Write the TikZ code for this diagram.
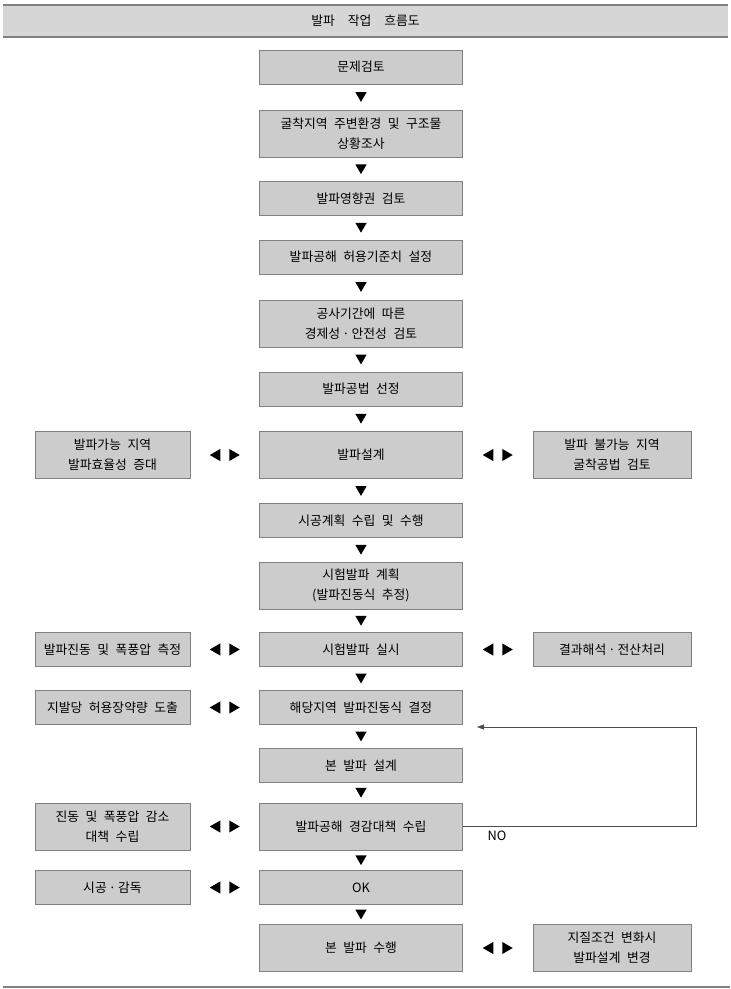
\documentclass[tikz,border=0pt]{standalone}
\usepackage{fontspec}
\newfontfamily\kor{Noto Sans CJK KR}
\usetikzlibrary{arrows.meta,calc,shapes.geometric}

\definecolor{boxfill}{RGB}{204,204,204}
\definecolor{headfill}{RGB}{214,214,214}
\definecolor{boxline}{RGB}{128,128,128}

\newcommand{\boxfont}{\kor\fontsize{12.8}{20}\selectfont\spaceskip=6.5pt\relax}
\newcommand{\headfont}{\kor\fontsize{12.8}{20}\selectfont\spaceskip=13pt\relax}

\begin{document}
\begin{tikzpicture}[x=1pt,y=-1pt,
  font=\boxfont,
  stage/.style={draw=boxline,fill=boxfill,minimum width=203pt,minimum height=34pt,
                inner sep=0pt,align=center},
  tall/.style={minimum height=47pt},
  lside/.style={stage,minimum width=155pt},
  rside/.style={stage,minimum width=158pt},
  headbar/.style={fill=headfill,minimum width=725pt,minimum height=32pt,inner sep=0pt,
                  font=\headfont},
  rule/.style={draw=boxline,line width=2pt},
  down/.style={regular polygon,regular polygon sides=3,shape border rotate=180,
               fill=black,inner sep=0pt,minimum size=13pt,yshift=1.6pt},
  lpoint/.style={regular polygon,regular polygon sides=3,shape border rotate=90,
                 fill=black,inner sep=0pt,minimum size=14pt},
  rpoint/.style={lpoint,shape border rotate=-90},
  back/.style={draw=black!70,-{Triangle[length=7pt,width=5pt]}}
]
  \useasboundingbox (0,0) rectangle (731,989);

  % title bar
  \node[headbar] (head) at (365.5,21) {발파 작업 흐름도};
  \draw[rule] (head.north west) -- (head.north east);
  \draw[rule] (head.south west) -- (head.south east);

  % main column
  \node[stage] (b1) at (361,67) {문제검토};
  \node[stage,tall] (b2) at (361,133.5) {굴착지역 주변환경 및 구조물\\상황조사};
  \node[stage] (b3) at (361,198.5) {발파영향권 검토};
  \node[stage] (b4) at (361,257) {발파공해 허용기준치 설정};
  \node[stage,tall] (b5) at (361,323.5) {공사기간에 따른\\경제성\,·\,안전성 검토};
  \node[stage] (b6) at (361,389) {발파공법 선정};
  \node[stage,tall] (b7) at (361,455) {발파설계};
  \node[stage] (b8) at (361,520.5) {시공계획 수립 및 수행};
  \node[stage,tall] (b9) at (361,585.5) {시험발파 계획\\(발파진동식 추정)};
  \node[stage] (b10) at (361,649.5) {시험발파 실시};
  \node[stage] (b11) at (361,707.5) {해당지역 발파진동식 결정};
  \node[stage] (b12) at (361,765.5) {본 발파 설계};
  \node[stage,tall] (b13) at (361,826.5) {발파공해 경감대책 수립};
  \node[stage] (b14) at (361,887.5) {OK};
  \node[stage,tall] (b15) at (361,948) {본 발파 수행};

  % side boxes
  \node[lside,tall] (l7) at (112.5,455) {발파가능 지역\\발파효율성 증대};
  \node[rside,tall] (r7) at (612,455) {발파 불가능 지역\\굴착공법 검토};
  \node[lside] (l10) at (112.5,649.5) {발파진동 및 폭풍압 측정};
  \node[rside] (r10) at (612,649.5) {결과해석\,·\,전산처리};
  \node[lside] (l11) at (112.5,707.5) {지발당 허용장약량 도출};
  \node[lside,tall] (l13) at (112.5,826.5) {진동 및 폭풍압 감소\\대책 수립};
  \node[lside] (l14) at (112.5,887.5) {시공\,·\,감독};
  \node[rside,tall] (r15) at (612,948) {지질조건 변화시\\발파설계 변경};

  % flow markers
  \foreach \a/\b in {b1/b2,b2/b3,b3/b4,b4/b5,b5/b6,b6/b7,b7/b8,b8/b9,b9/b10,
                     b10/b11,b11/b12,b12/b13,b13/b14,b14/b15}
    \node[down] (d-\a) at ($(\a.south)!0.5!(\b.north)$) {};
  \foreach \l/\r in {l7/b7,l10/b10,l11/b11,l13/b13,l14/b14,b7/r7,b10/r10,b15/r15}{
    \coordinate (m-\l-\r) at ($(\l.east)!0.5!(\r.west)$);
    \node[lpoint] (pl-\l-\r) at ($(m-\l-\r)+(-8,0)$) {};
    \node[rpoint] (pr-\l-\r) at ($(m-\l-\r)+(8,0)$) {};
  }

  % NO loop
  \coordinate (noturn) at (696,727);
  \coordinate (noend) at (477,727);
  \draw[back] (b13.east) -| (noturn) -- (noend);
  \node (no) at (497,836) {NO};

  \draw[rule] (3,987) -- (730,987);
\end{tikzpicture}
\end{document}
